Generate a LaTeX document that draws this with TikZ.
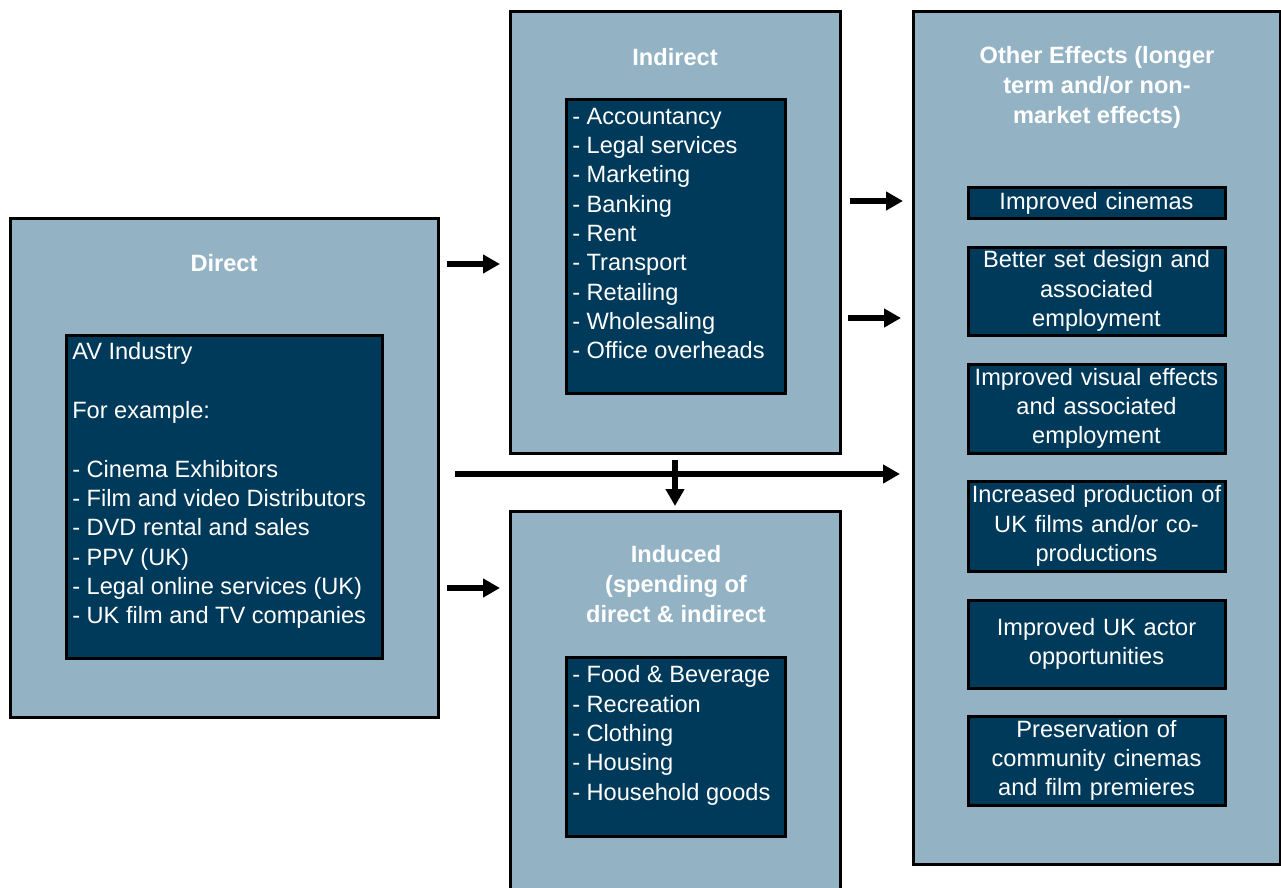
\documentclass[tikz,border=0pt]{standalone}
\usepackage{fontspec}
\setmainfont{Liberation Sans}
\usetikzlibrary{arrows.meta}
\definecolor{ieFill}{RGB}{147,179,197}
\definecolor{ieNavy}{RGB}{0,58,90}

\begin{document}
\begin{tikzpicture}[
  x=0.75pt,y=-0.75pt,
  every node/.style={font=\fontsize{17.7}{22}\selectfont,text=white},
  outerbox/.style={draw=black,line width=2.25pt,fill=ieFill,
                   inner sep=0pt,outer sep=0pt},
  innerbox/.style={draw=black,line width=2.25pt,fill=ieNavy,
                   inner sep=0pt,outer sep=0pt},
  effect/.style={innerbox,minimum width=192.75pt,text width=192pt,
                 align=center},
  heading/.style={font=\fontsize{17.7}{22.5}\selectfont\bfseries,
                  align=center,inner sep=0pt},
  listing/.style={align=left,inner sep=0pt,anchor=north west},
  flow/.style={line width=4.5pt,-{Triangle[length=12.75pt,width=13.5pt]}}
]
\clip (0,0) rectangle (1281,888);
\fill[white] (0,0) rectangle (1281,888);

% outer boxes
\node[outerbox,minimum width=321pt,minimum height=374.25pt] (dir) at (224,467.5) {};
\node[outerbox,minimum width=247.5pt,minimum height=330.75pt] (ind) at (675,232.5) {};
\node[outerbox,minimum width=247.5pt,minimum height=291.75pt] (idc) at (675,705.5) {};
\node[outerbox,minimum width=275.25pt,minimum height=639pt] (oth) at (1096.5,438) {};

% headings
\node[heading] (dirT) at (224,263) {Direct};
\node[heading] (indT) at (675,57) {Indirect};
\node[heading] (idcT) at (676,584) {Induced\\(spending of\\direct \& indirect};
\node[heading] (othT) at (1097,87) {Other Effects (longer\\term and/or non-\\market effects)};

% inner boxes
\node[innerbox,minimum width=237pt,minimum height=242.25pt] (dirIn) at (224,496.5) {};
\node[innerbox,minimum width=164.25pt,minimum height=219.75pt] (indIn) at (675.5,246.5) {};
\node[innerbox,minimum width=164.25pt,minimum height=134.25pt] (idcIn) at (675.5,746.5) {};

\node[listing] (dirL) at ([shift={(6,7.6)}]dirIn.north west)
  {AV Industry\\[22pt]For example:\\[22pt]- Cinema Exhibitors\\- Film and video Distributors\\- DVD rental and sales\\- PPV (UK)\\- Legal online services (UK)\\- UK film and TV companies};
\node[listing] (indL) at ([shift={(6,7.6)}]indIn.north west)
  {- Accountancy\\- Legal services\\- Marketing\\- Banking\\- Rent\\- Transport\\- Retailing\\- Wholesaling\\- Office overheads};
\node[listing] (idcL) at ([shift={(6,8.6)}]idcIn.north west)
  {- Food \& Beverage\\- Recreation\\- Clothing\\- Housing\\- Household goods};

% other effects
\node[effect,minimum height=22.5pt] (e1) at (1096.5,203) {Improved cinemas};
\node[effect,minimum height=66pt]   (e2) at (1096.5,291) {Better set design and\\associated\\employment};
\node[effect,minimum height=66.75pt] (e3) at (1096.5,408.5) {Improved visual effects\\and associated\\employment};
\node[effect,minimum height=67.5pt] (e4) at (1096.5,526) {Increased production of\\UK films and/or co-\\productions};
\node[effect,minimum height=66pt]   (e5) at (1096.5,644) {Improved UK actor\\opportunities};
\node[effect,minimum height=66.75pt] (e6) at (1096.5,760.5) {Preservation of\\community cinemas\\and film premieres};

% arrows
\draw[flow,shorten <=6.75pt,shorten >=7.5pt] (dir.east |- 0,264) -- (ind.west |- 0,264);
\draw[flow,shorten <=6.75pt,shorten >=7.5pt] (dir.east |- 0,588) -- (idc.west |- 0,588);
\draw[flow,shorten <=7.5pt,shorten >=7.5pt] (ind.east |- 0,201) -- (oth.west |- 0,201);
\draw[flow,shorten <=6pt,shorten >=9pt] (ind.east |- 0,318) -- (oth.west |- 0,318);
\draw[flow,shorten <=12.75pt,shorten >=9.75pt] (dir.east |- 0,474) -- (oth.west |- 0,474);
\draw[flow,shorten <=5.25pt,shorten >=3.75pt] (ind.south) -- (idc.north);
\end{tikzpicture}
\end{document}
